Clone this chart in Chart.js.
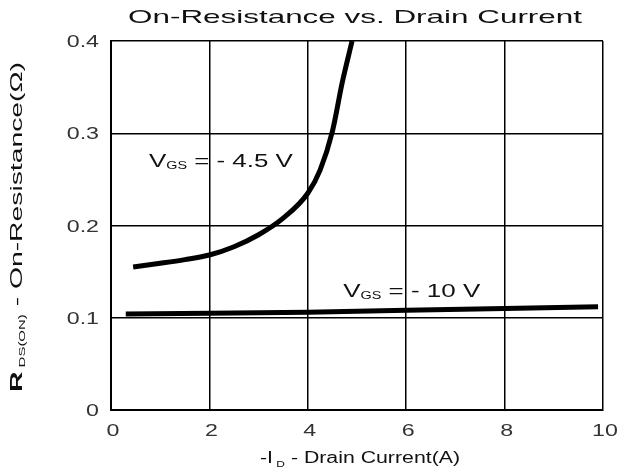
<!DOCTYPE html>
<html>
<head>
<meta charset="utf-8">
<script src="https://cdn.jsdelivr.net/npm/chart.js@4"></script>
<style>
  body { margin: 0; background: #fff; }
  #wrap { width: 622px; height: 470px; }
</style>
</head>
<body>
<div id="wrap"><canvas id="c" width="622" height="470"></canvas></div>
<script>
// valores
const vgs45X = [0.45, 1.0, 1.5, 2.0, 2.5, 3.0, 3.5, 4.0, 4.25, 4.5, 4.7, 4.9];
const vgs45Y = [0.155, 0.159, 0.163, 0.168, 0.177, 0.19, 0.208, 0.235, 0.26, 0.302, 0.355, 0.4];
const vgs10X = [0.3, 2, 4, 6, 8, 9.9];
const vgs10Y = [0.104, 0.105, 0.106, 0.108, 0.110, 0.112];
const xTicks = [0, 2, 4, 6, 8, 10];
const yTicks = [0, 0.1, 0.2, 0.3, 0.4];
const xTickLabels = ['0', '2', '4', '6', '8', '10'];
const yTickLabels = ['0', '0.1', '0.2', '0.3', '0.4'];

const FONT = '"Liberation Sans", Arial, sans-serif';

function pares(xs, ys) {
    return xs.map(function (x, i) { return { x: x, y: ys[i] }; });
}

// dibuja partes de texto (con subindices) estiradas al ancho pedido
function textoAncho(ctx, partes, x, y, ancho, align) {
    let total = 0;
    partes.forEach(function (p) {
        ctx.font = p.font;
        total += ctx.measureText(p.t).width;
    });
    const sx = ancho / total;
    ctx.save();
    ctx.translate(x, y);
    ctx.scale(sx, 1);
    let cx = align === 'center' ? -total / 2 : (align === 'right' ? -total : 0);
    partes.forEach(function (p) {
        ctx.font = p.font;
        ctx.fillText(p.t, cx, p.dy || 0);
        cx += ctx.measureText(p.t).width;
    });
    ctx.restore();
}

function textoEstirado(ctx, t, x, y, font, sx, align) {
    ctx.font = font;
    const w = ctx.measureText(t).width;
    textoAncho(ctx, [{ t: t, font: font }], x, y, w * sx, align);
}

const textos = {
    id: 'textos',
    afterDraw: function (chart) {
        const ctx = chart.ctx;
        const xs = chart.scales.x, ys = chart.scales.y;
        ctx.save();
        ctx.fillStyle = '#111';
        ctx.textBaseline = 'alphabetic';
        ctx.textAlign = 'left';

        // titulo
        textoAncho(ctx, [{ t: 'On-Resistance vs. Drain Current', font: '19px ' + FONT }], 355, 23, 454, 'center');

        // marcas de los ejes
        ctx.fillStyle = '#333';
        xTicks.forEach(function (v, i) {
            textoEstirado(ctx, xTickLabels[i], xs.getPixelForValue(v) + 2, 436, '16px ' + FONT, 1.45, 'center');
        });
        yTicks.forEach(function (v, i) {
            textoEstirado(ctx, yTickLabels[i], 99, ys.getPixelForValue(v) + 6, '16px ' + FONT, 1.45, 'right');
        });
        ctx.fillStyle = '#111';

        // etiquetas de curvas
        const big = '18px ' + FONT, small = '10px ' + FONT;
        textoAncho(ctx, [
            { t: 'V', font: big }, { t: 'GS', font: small, dy: 2 }, { t: ' = - 4.5 V', font: big }
        ], xs.getPixelForValue(0.77), ys.getPixelForValue(0.263), 144, 'left');
        textoAncho(ctx, [
            { t: 'V', font: big }, { t: 'GS', font: small, dy: 2 }, { t: ' = - 10 V', font: big }
        ], xs.getPixelForValue(4.72), ys.getPixelForValue(0.1225), 137, 'left');

        // titulo eje x
        textoAncho(ctx, [
            { t: '-I', font: '16px ' + FONT }, { t: ' D', font: '9px ' + FONT, dy: 4 },
            { t: ' - Drain Current(A)', font: '16px ' + FONT }
        ], 360, 463, 200, 'center');

        // titulo eje y
        ctx.translate(22, 227);
        ctx.rotate(-Math.PI / 2);
        textoAncho(ctx, [
            { t: 'R', font: 'bold 17px ' + FONT }, { t: ' DS(ON)', font: '9px ' + FONT, dy: 3 },
            { t: ' - On-Resistance(\u03A9)', font: '17px ' + FONT }
        ], 0, 0, 330, 'center');
        ctx.restore();
    }
};

document.addEventListener('DOMContentLoaded', function () {
    const ctx = document.getElementById('c');
    new Chart(ctx, {
        type: 'scatter',
        data: {
            datasets: [{
                label: 'VGS = -4.5 V',
                data: pares(vgs45X, vgs45Y),
                showLine: true,
                borderColor: '#000',
                borderWidth: 5,
                pointRadius: 0,
                cubicInterpolationMode: 'monotone'
            }, {
                label: 'VGS = -10 V',
                data: pares(vgs10X, vgs10Y),
                showLine: true,
                borderColor: '#000',
                borderWidth: 5,
                pointRadius: 0
            }]
        },
        options: {
            responsive: false,
            animation: false,
            devicePixelRatio: 1,
            layout: { padding: { top: 41, right: 19, left: 0, bottom: 0 } },
            plugins: {
                legend: { display: false },
                tooltip: { enabled: false },
                title: { display: false }
            },
            scales: {
                x: {
                    type: 'linear',
                    min: 0, max: 10,
                    afterFit: function (s) { s.height = 60; },
                    afterBuildTicks: function (s) { s.ticks = xTicks.map(function (v) { return { value: v }; }); },
                    grid: { color: '#000', lineWidth: 1.5, drawTicks: false },
                    border: { color: '#000', width: 2 },
                    ticks: { display: false }
                },
                y: {
                    type: 'linear',
                    min: 0, max: 0.4,
                    afterFit: function (s) { s.width = 111; },
                    afterBuildTicks: function (s) { s.ticks = yTicks.map(function (v) { return { value: v }; }); },
                    grid: { color: '#000', lineWidth: 1.5, drawTicks: false },
                    border: { color: '#000', width: 2 },
                    ticks: { display: false }
                }
            }
        },
        plugins: [textos]
    });
});
</script>
</body>
</html>
